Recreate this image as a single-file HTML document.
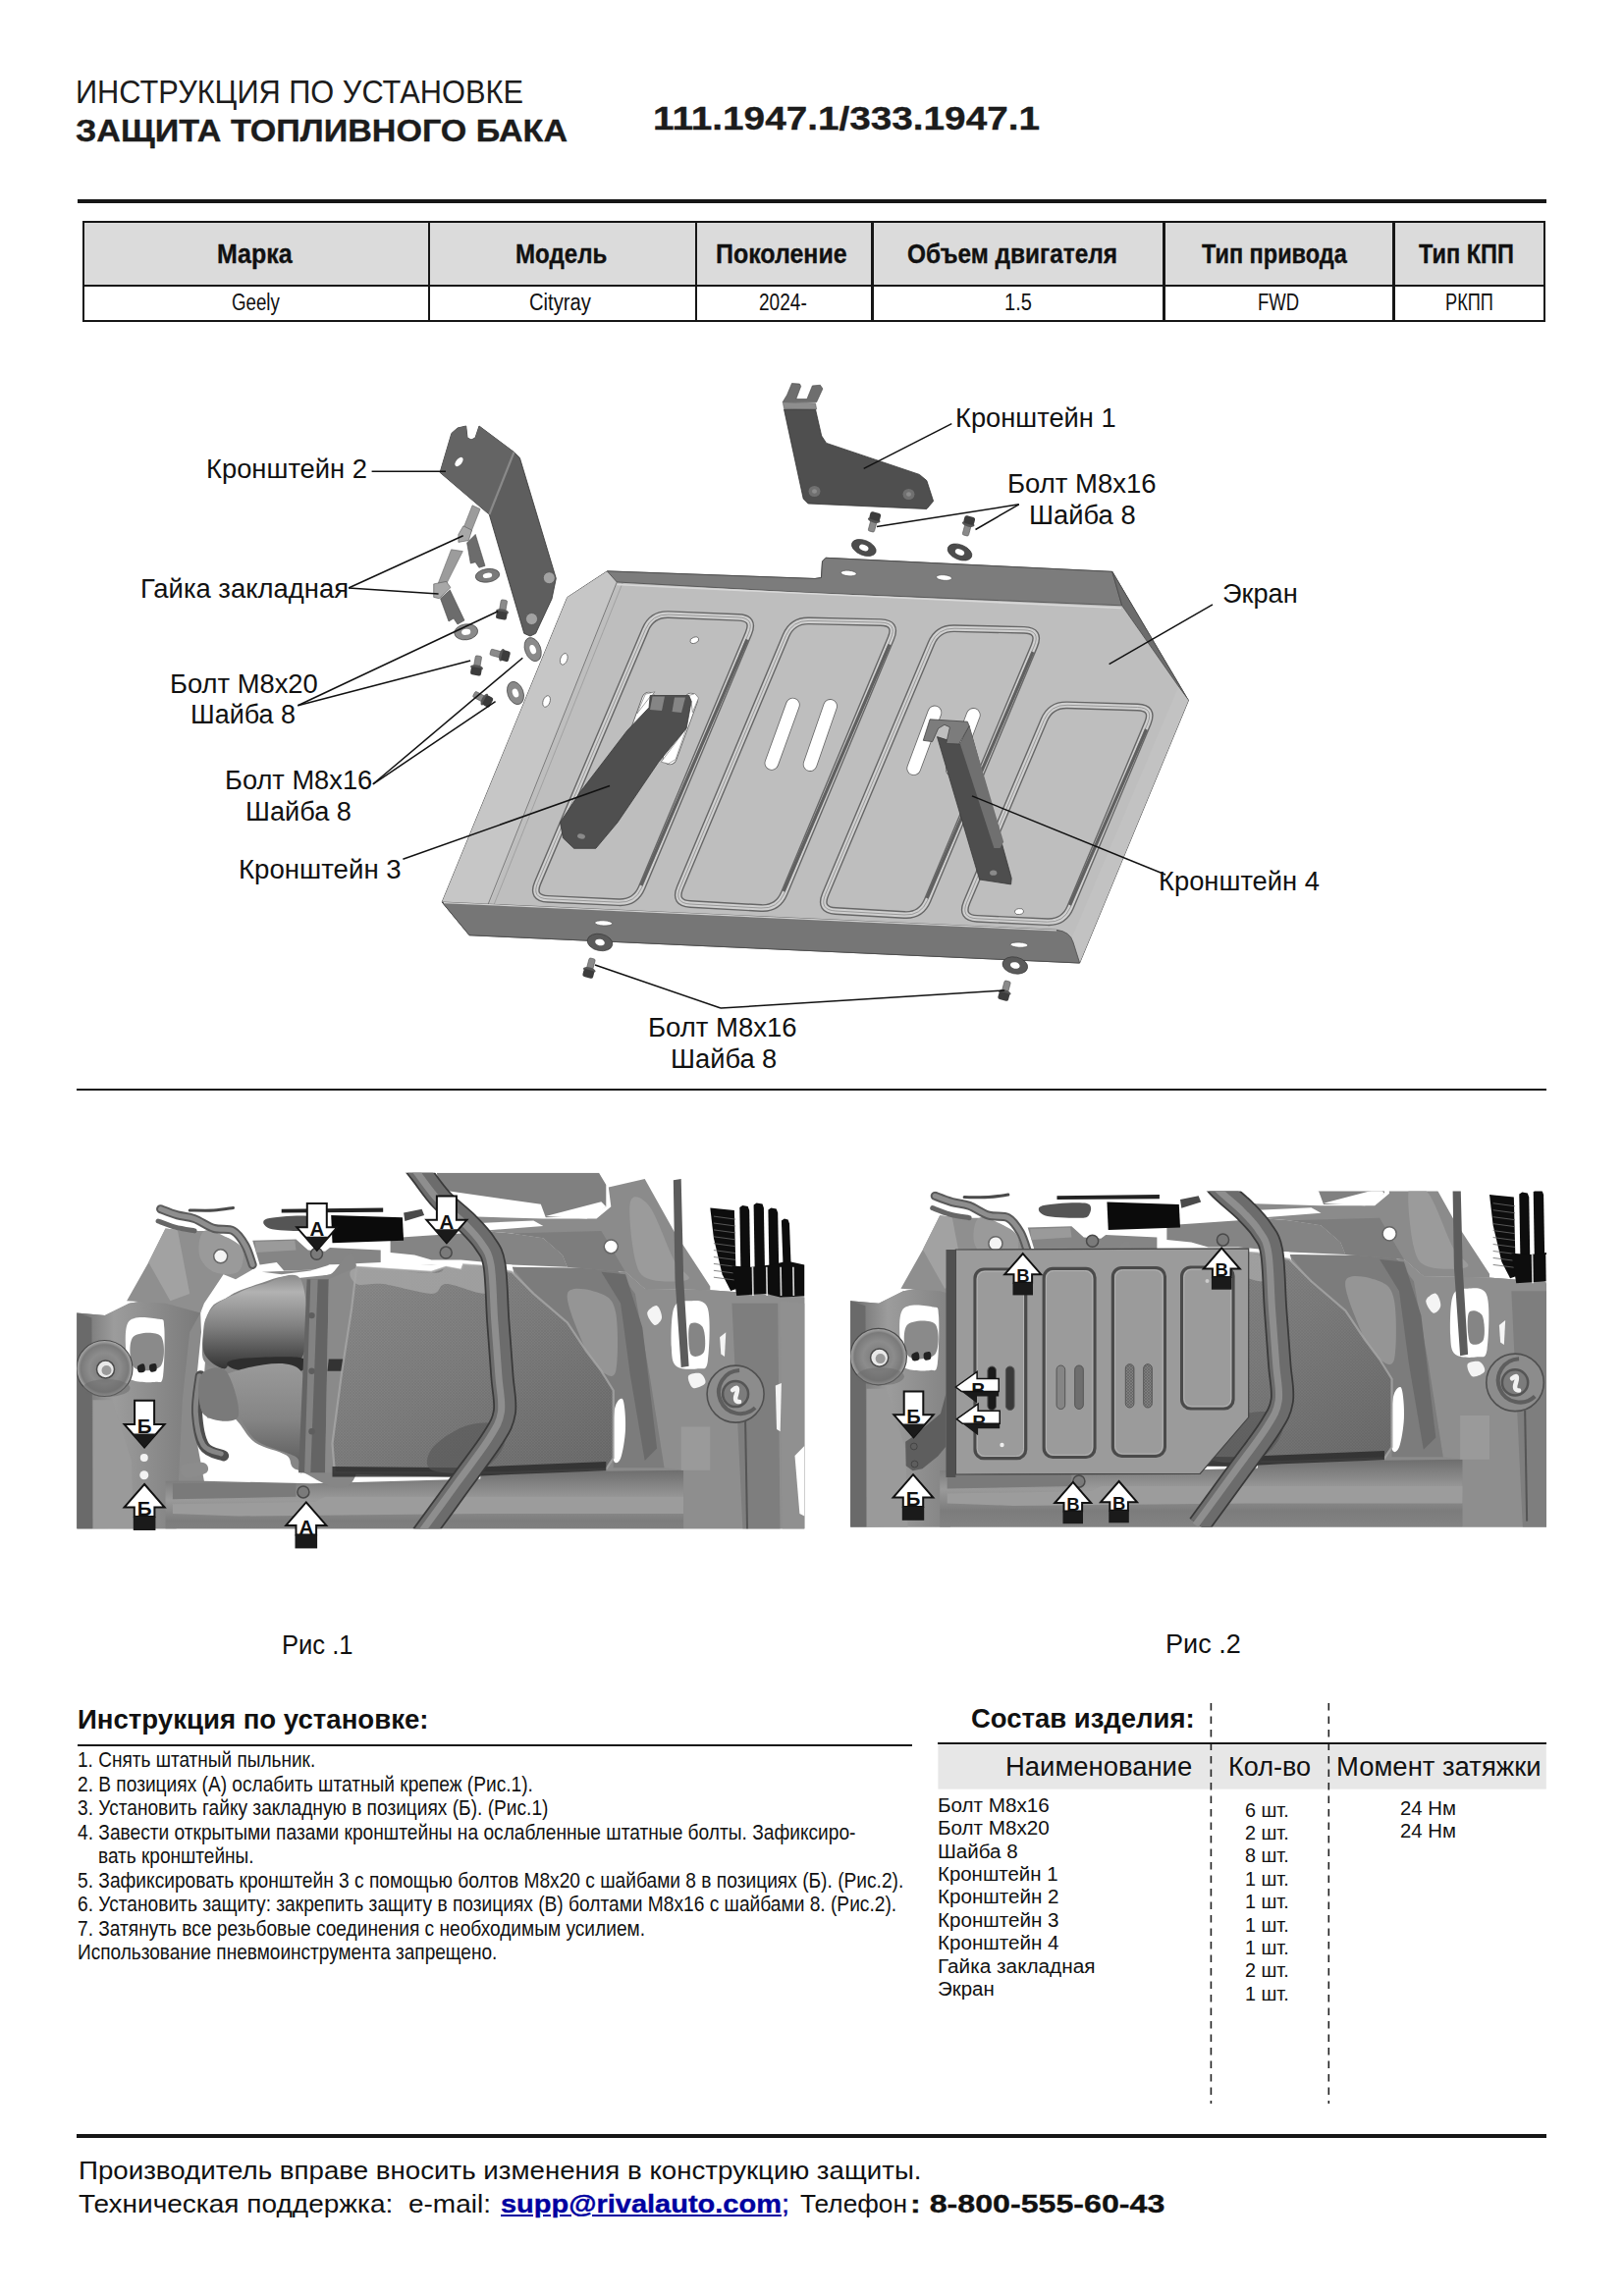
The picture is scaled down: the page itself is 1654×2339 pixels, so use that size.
<!DOCTYPE html>
<html lang="ru"><head><meta charset="utf-8"><title>Инструкция по установке</title>
<style>
html,body{margin:0;padding:0;background:#fff}
body{width:1654px;height:2339px;position:relative;overflow:hidden;font-family:"Liberation Sans",sans-serif;color:#111}
.t{position:absolute;white-space:pre;line-height:1;transform-origin:0 0}
.b{font-weight:bold}
.h{-webkit-text-stroke:.35px currentColor}
.r{position:absolute;background:#111}
svg{position:absolute;left:0;top:0}
a{color:inherit}
</style></head><body>

<svg width="1654" height="2339" viewBox="0 0 1654 2339">
<defs>
<linearGradient id="gPlate" x1="0" y1="0" x2="1" y2="1"><stop offset="0" stop-color="#c4c4c4"/><stop offset="1" stop-color="#b9b9b9"/></linearGradient>
<linearGradient id="gPipe" x1="0" y1="0" x2="1" y2="0"><stop offset="0" stop-color="#4a4a4a"/><stop offset=".4" stop-color="#b8b8b8"/><stop offset="1" stop-color="#585858"/></linearGradient>
</defs>
<polygon points="618.4,581.9 830.0,589.5 836.5,588.5 837.5,572.0 841.0,568.3 1132.8,582.4 1210.4,713.6 1099.6,981.0 478.0,952.7 450.2,919.0 577.8,608.5" fill="#bebebe" stroke="#4a4a4a" stroke-width="1" />
<polygon points="577.8,608.5 618.4,581.9 628.3,593.0 497.0,925.0 450.2,919.0" fill="#c6c6c6" />
<line x1="628.3" y1="593.0" x2="497.0" y2="921.5" stroke="#7a7a7a" stroke-width="1" />
<line x1="634.0" y1="594.0" x2="503.0" y2="921.8" stroke="#9a9a9a" stroke-width="0.8" />
<polygon points="618.4,581.9 830.0,589.5 836.5,588.5 837.5,572.0 841.0,568.3 1132.8,582.4 1142.7,616.8 820.0,603.5 628.3,593.0" fill="#7c7c7c" stroke="#4a4a4a" stroke-width="0.8" />
<line x1="628.3" y1="595.5" x2="1142.0" y2="619.5" stroke="#d8d8d8" stroke-width="1.6" />
<polygon points="1132.8,582.4 1142.7,616.8 1210.4,713.6" fill="#6c6c6c" stroke="#4a4a4a" stroke-width="0.8" />
<polygon points="1210.4,713.6 1099.6,981.0 1091.0,957.0 1200.0,700.0" fill="#c2c2c2" />
<path d="M450.2,919 L1076,947.3 Q1090,949 1093,960 L1099.6,981 L478,952.7 Z" fill="#767676" stroke="#4a4a4a" stroke-width="0.8"/>
<line x1="452.0" y1="919.6" x2="1076.0" y2="947.8" stroke="#d0d0d0" stroke-width="1.2" />
<path d="M657.4,641.1 Q664.0,625.5 681.0,626.1 L752.0,628.9 Q769.0,629.5 762.4,645.2 L653.6,904.3 Q647.0,920.0 630.0,919.2 L558.0,915.8 Q541.0,915.0 547.6,899.4 Z" fill="none" stroke="#666" stroke-width="7.8"/>
<path d="M657.4,641.1 Q664.0,625.5 681.0,626.1 L752.0,628.9 Q769.0,629.5 762.4,645.2 L653.6,904.3 Q647.0,920.0 630.0,919.2 L558.0,915.8 Q541.0,915.0 547.6,899.4 Z" fill="none" stroke="#d0d0d0" stroke-width="5"/>
<path d="M657.4,641.1 Q664.0,625.5 681.0,626.1 L752.0,628.9 Q769.0,629.5 762.4,645.2 L653.6,904.3 Q647.0,920.0 630.0,919.2 L558.0,915.8 Q541.0,915.0 547.6,899.4 Z" fill="none" stroke="#8a8a8a" stroke-width="0.8"/>
<line x1="761.0" y1="651.5" x2="653.0" y2="902.0" stroke="#606060" stroke-width="3.2" />
<path d="M800.4,647.7 Q807.0,632.0 824.0,632.4 L897.0,634.1 Q914.0,634.5 907.4,650.2 L798.6,910.3 Q792.0,926.0 775.0,925.0 L703.0,921.0 Q686.0,920.0 692.6,904.3 Z" fill="none" stroke="#666" stroke-width="7.8"/>
<path d="M800.4,647.7 Q807.0,632.0 824.0,632.4 L897.0,634.1 Q914.0,634.5 907.4,650.2 L798.6,910.3 Q792.0,926.0 775.0,925.0 L703.0,921.0 Q686.0,920.0 692.6,904.3 Z" fill="none" stroke="#d0d0d0" stroke-width="5"/>
<path d="M800.4,647.7 Q807.0,632.0 824.0,632.4 L897.0,634.1 Q914.0,634.5 907.4,650.2 L798.6,910.3 Q792.0,926.0 775.0,925.0 L703.0,921.0 Q686.0,920.0 692.6,904.3 Z" fill="none" stroke="#8a8a8a" stroke-width="0.8"/>
<line x1="906.0" y1="656.5" x2="798.0" y2="908.0" stroke="#606060" stroke-width="3.2" />
<path d="M948.4,655.5 Q955.0,639.8 972.0,640.2 L1043.0,641.8 Q1060.0,642.2 1053.4,657.9 L944.6,917.3 Q938.0,933.0 921.0,932.0 L851.0,928.0 Q834.0,927.0 840.6,911.3 Z" fill="none" stroke="#666" stroke-width="7.8"/>
<path d="M948.4,655.5 Q955.0,639.8 972.0,640.2 L1043.0,641.8 Q1060.0,642.2 1053.4,657.9 L944.6,917.3 Q938.0,933.0 921.0,932.0 L851.0,928.0 Q834.0,927.0 840.6,911.3 Z" fill="none" stroke="#d0d0d0" stroke-width="5"/>
<path d="M948.4,655.5 Q955.0,639.8 972.0,640.2 L1043.0,641.8 Q1060.0,642.2 1053.4,657.9 L944.6,917.3 Q938.0,933.0 921.0,932.0 L851.0,928.0 Q834.0,927.0 840.6,911.3 Z" fill="none" stroke="#8a8a8a" stroke-width="0.8"/>
<line x1="1052.0" y1="664.2" x2="944.0" y2="915.0" stroke="#606060" stroke-width="3.2" />
<path d="M1063.4,733.5 Q1070.0,717.8 1087.0,718.3 L1158.5,720.5 Q1175.5,721.0 1168.9,736.7 L1090.1,924.3 Q1083.5,940.0 1066.5,939.2 L995.0,935.8 Q978.0,935.0 984.6,919.3 Z" fill="none" stroke="#666" stroke-width="7.8"/>
<path d="M1063.4,733.5 Q1070.0,717.8 1087.0,718.3 L1158.5,720.5 Q1175.5,721.0 1168.9,736.7 L1090.1,924.3 Q1083.5,940.0 1066.5,939.2 L995.0,935.8 Q978.0,935.0 984.6,919.3 Z" fill="none" stroke="#d0d0d0" stroke-width="5"/>
<path d="M1063.4,733.5 Q1070.0,717.8 1087.0,718.3 L1158.5,720.5 Q1175.5,721.0 1168.9,736.7 L1090.1,924.3 Q1083.5,940.0 1066.5,939.2 L995.0,935.8 Q978.0,935.0 984.6,919.3 Z" fill="none" stroke="#8a8a8a" stroke-width="0.8"/>
<line x1="1167.5" y1="743.0" x2="1089.5" y2="922.0" stroke="#606060" stroke-width="3.2" />
<line x1="660.8" y1="712.1" x2="639.2" y2="771.9" stroke="#666" stroke-width="14.6" stroke-linecap="round"/>
<line x1="660.8" y1="712.1" x2="639.2" y2="771.9" stroke="#fff" stroke-width="13.0" stroke-linecap="round"/>
<line x1="703.8" y1="713.1" x2="682.2" y2="771.9" stroke="#666" stroke-width="14.6" stroke-linecap="round"/>
<line x1="703.8" y1="713.1" x2="682.2" y2="771.9" stroke="#fff" stroke-width="13.0" stroke-linecap="round"/>
<line x1="807.4" y1="718.1" x2="785.9" y2="777.4" stroke="#666" stroke-width="14.6" stroke-linecap="round"/>
<line x1="807.4" y1="718.1" x2="785.9" y2="777.4" stroke="#fff" stroke-width="13.0" stroke-linecap="round"/>
<line x1="845.6" y1="719.4" x2="825.1" y2="778.6" stroke="#666" stroke-width="14.6" stroke-linecap="round"/>
<line x1="845.6" y1="719.4" x2="825.1" y2="778.6" stroke="#fff" stroke-width="13.0" stroke-linecap="round"/>
<line x1="951.9" y1="725.9" x2="930.7" y2="782.7" stroke="#666" stroke-width="14.6" stroke-linecap="round"/>
<line x1="951.9" y1="725.9" x2="930.7" y2="782.7" stroke="#fff" stroke-width="13.0" stroke-linecap="round"/>
<line x1="991.3" y1="728.4" x2="970.3" y2="783.9" stroke="#666" stroke-width="14.6" stroke-linecap="round"/>
<line x1="991.3" y1="728.4" x2="970.3" y2="783.9" stroke="#fff" stroke-width="13.0" stroke-linecap="round"/>
<ellipse cx="707.3" cy="652.2" rx="4.5" ry="3.0" fill="#fff" transform="rotate(-20 707.3 652.2)" stroke="#555" stroke-width="0.7"/>
<ellipse cx="574.3" cy="671.4" rx="3.5" ry="6.0" fill="#fff" transform="rotate(20 574.3 671.4)" stroke="#555" stroke-width="0.7"/>
<ellipse cx="556.6" cy="714.5" rx="3.5" ry="6.0" fill="#fff" transform="rotate(20 556.6 714.5)" stroke="#555" stroke-width="0.7"/>
<ellipse cx="1038.0" cy="928.6" rx="4.5" ry="3.0" fill="#fff" transform="rotate(-10 1038.0 928.6)" stroke="#555" stroke-width="0.7"/>
<ellipse cx="864.3" cy="584.0" rx="8.0" ry="2.8" fill="#fff" transform="rotate(5 864.3 584.0)" stroke="#555" stroke-width="0.7"/>
<ellipse cx="961.5" cy="588.5" rx="8.0" ry="2.8" fill="#fff" transform="rotate(5 961.5 588.5)" stroke="#555" stroke-width="0.7"/>
<ellipse cx="614.7" cy="940.4" rx="9.0" ry="2.6" fill="#fff" transform="rotate(3 614.7 940.4)" stroke="#555" stroke-width="0.7"/>
<ellipse cx="1038.0" cy="962.6" rx="9.0" ry="2.6" fill="#fff" transform="rotate(3 1038.0 962.6)" stroke="#555" stroke-width="0.7"/>
<polygon points="648.7,727.0 657.3,707.2 667.1,704.8 662.2,709.7" fill="#fff" stroke="#666" stroke-width="0.6" />
<polygon points="701.6,708.5 707.8,706.6 711.5,711.0 705.3,725.7 704.1,714.6" fill="#fff" stroke="#666" stroke-width="0.6" />
<polygon points="699.2,741.7 688.1,773.7 680.7,778.0 673.3,776.2" fill="#fff" stroke="#666" stroke-width="0.6" />
<polygon points="662.2,708.5 701.6,708.5 704.1,714.6 699.2,741.7 670.8,776.2 629.0,837.8 606.8,864.3 584.6,864.3 573.5,853.8 570.5,837.8 590.8,807.0 638.8,744.2 661.0,720.8" fill="#4f4f4f" stroke="#3a3a3a" stroke-width="0.8" />
<polygon points="664.5,709.5 677.0,709.5 674.0,724.0 662.0,723.0" fill="#858585" />
<polygon points="687.0,710.5 698.0,710.5 694.0,726.0 684.5,725.0" fill="#858585" />
<ellipse cx="592.0" cy="852.0" rx="4.0" ry="2.6" fill="#8a8a8a" transform="rotate(10 592.0 852.0)"/>
<polygon points="954.5,750.6 977.9,758.0 987.1,739.6 1030.2,894.7 1029.6,900.9 997.6,896.0" fill="#4e4e4e" stroke="#3a3a3a" stroke-width="0.8" />
<polygon points="977.9,758.0 987.1,739.6 1022.2,857.8 1018.5,863.9 1012.4,863.9" fill="#707070" />
<polygon points="947.1,732.8 985.3,735.2 987.1,739.6 976.7,758.0 963.7,757.4 967.4,740.8 961.9,738.3 955.7,742.0 949.6,755.6 940.3,754.3" fill="#7c7c7c" stroke="#444" stroke-width="0.8" />
<ellipse cx="1011.7" cy="889.2" rx="3.6" ry="2.6" fill="#8a8a8a"/>
<polygon points="798.5,416.9 818.2,508.1 823.1,513.0 943.8,518.5 950.6,510.5 943.8,489.6 936.4,483.4 841.6,451.4 836.7,444.0 830.5,416.9" fill="#4f4f4f" stroke="#333" stroke-width="0.8" />
<polygon points="801.6,402.2 806.5,390.5 814.5,391.1 815.7,393.5 810.8,406.5 821.9,406.5 827.4,392.9 835.4,392.3 837.9,396.0 831.7,409.6 797.2,409.6" fill="#6e6e6e" stroke="#444" stroke-width="0.6" />
<polygon points="797.2,409.6 830.5,410.8 831.7,416.9 798.5,416.3" fill="#8e8e8e" stroke="#555" stroke-width="0.5" />
<ellipse cx="829.5" cy="500.5" rx="6.0" ry="5.5" fill="#707070"/>
<ellipse cx="925.5" cy="503.5" rx="6.0" ry="5.5" fill="#707070"/>
<ellipse cx="829.5" cy="500.5" rx="2.5" ry="2.2" fill="#8c8c8c"/>
<ellipse cx="925.5" cy="503.5" rx="2.5" ry="2.2" fill="#8c8c8c"/>
<polygon points="459.9,441.4 466.0,436.0 474.7,434.0 476.0,446.0 480.0,448.0 484.0,446.0 488.0,434.0 523.5,460.6 529.4,466.5 566.3,589.2 562.0,610.0 545.6,645.3 540.0,648.0 533.8,645.3 498.3,524.1 448.1,481.3" fill="#5e5e5e" stroke="#3c3c3c" stroke-width="0.9" />
<polygon points="459.9,441.4 466.0,436.0 474.7,434.0 476.0,446.0 480.0,448.0 484.0,446.0 488.0,434.0 523.5,460.6 498.3,524.1 448.1,481.3" fill="#646464" />
<line x1="523.5" y1="460.6" x2="498.3" y2="524.1" stroke="#8a8a8a" stroke-width="2.2" />
<ellipse cx="467.5" cy="470.5" rx="3.0" ry="5.5" fill="#fff" transform="rotate(38 467.5 470.5)"/>
<ellipse cx="559.3" cy="588.7" rx="6.0" ry="6.0" fill="#a2a2a2" stroke="#555" stroke-width="0.8"/>
<ellipse cx="541.5" cy="630.5" rx="6.0" ry="6.0" fill="#a2a2a2" stroke="#555" stroke-width="0.8"/>
<polygon points="481.1,514.8 489.1,518.5 479.3,543.2 471.9,538.2" fill="#9c9c9c" stroke="#666" stroke-width="0.6" />
<polygon points="475.6,553.0 484.2,544.4 494.0,576.4 487.9,578.3 484.2,572.7 479.3,574.0" fill="#6c6c6c" stroke="#444" stroke-width="0.6" />
<polygon points="471.9,535.8 480.5,540.1 477.4,550.5 466.9,552.4 466.9,544.4" fill="#a8a8a8" stroke="#555" stroke-width="0.6" />
<polygon points="459.6,559.8 471.3,561.6 453.4,597.3 446.0,594.9" fill="#9c9c9c" stroke="#666" stroke-width="0.6" />
<polygon points="448.5,609.7 458.3,601.0 473.0,632.0 466.0,636.0 462.0,630.0 457.0,633.0" fill="#6c6c6c" stroke="#444" stroke-width="0.6" />
<polygon points="441.7,594.9 454.6,592.4 458.9,598.6 447.2,609.7 441.7,608.4" fill="#a8a8a8" stroke="#555" stroke-width="0.6" />
<ellipse cx="879.8" cy="558.0" rx="13.0" ry="7.6" fill="#4c4c4c" transform="rotate(22 879.8 558.0)" stroke="#333" stroke-width="0.6"/>
<ellipse cx="879.8" cy="558.0" rx="4.9" ry="2.9" fill="#fff" transform="rotate(22 879.8 558.0)"/>
<ellipse cx="977.5" cy="562.5" rx="13.0" ry="7.6" fill="#4c4c4c" transform="rotate(22 977.5 562.5)" stroke="#333" stroke-width="0.6"/>
<ellipse cx="977.5" cy="562.5" rx="4.9" ry="2.9" fill="#fff" transform="rotate(22 977.5 562.5)"/>
<ellipse cx="611.0" cy="960.0" rx="13.0" ry="8.5" fill="#5a5a5a" transform="rotate(12 611.0 960.0)" stroke="#333" stroke-width="0.6"/>
<ellipse cx="611.0" cy="960.0" rx="4.9" ry="3.2" fill="#fff" transform="rotate(12 611.0 960.0)"/>
<ellipse cx="1033.8" cy="983.5" rx="13.0" ry="8.5" fill="#5a5a5a" transform="rotate(12 1033.8 983.5)" stroke="#333" stroke-width="0.6"/>
<ellipse cx="1033.8" cy="983.5" rx="4.9" ry="3.2" fill="#fff" transform="rotate(12 1033.8 983.5)"/>
<ellipse cx="496.5" cy="586.3" rx="12.3" ry="6.8" fill="#7a7a7a" transform="rotate(-8 496.5 586.3)" stroke="#333" stroke-width="0.6"/>
<ellipse cx="496.5" cy="586.3" rx="4.7" ry="2.6" fill="#fff" transform="rotate(-8 496.5 586.3)"/>
<ellipse cx="474.7" cy="643.8" rx="12.0" ry="8.0" fill="#8a8a8a" transform="rotate(-8 474.7 643.8)" stroke="#333" stroke-width="0.6"/>
<ellipse cx="474.7" cy="643.8" rx="4.6" ry="3.0" fill="#fff" transform="rotate(-8 474.7 643.8)"/>
<ellipse cx="542.7" cy="661.6" rx="8.0" ry="12.5" fill="#8a8a8a" transform="rotate(-20 542.7 661.6)" stroke="#333" stroke-width="0.6"/>
<ellipse cx="542.7" cy="661.6" rx="3.0" ry="4.8" fill="#fff" transform="rotate(-20 542.7 661.6)"/>
<ellipse cx="525.0" cy="706.0" rx="8.0" ry="12.0" fill="#8a8a8a" transform="rotate(-20 525.0 706.0)" stroke="#333" stroke-width="0.6"/>
<ellipse cx="525.0" cy="706.0" rx="3.0" ry="4.6" fill="#fff" transform="rotate(-20 525.0 706.0)"/>
<g transform="translate(891.0 527.0) rotate(195)"><rect x="-3.2" y="-15" width="6.4" height="12" rx="1.5" fill="#8a8a8a" stroke="#555" stroke-width=".6"/><ellipse cx="0" cy="-3" rx="6.5" ry="2.6" fill="#555"/><rect x="-5.5" y="-3" width="11" height="8" rx="2.2" fill="#3c3c3c"/></g>
<g transform="translate(987.0 531.0) rotate(195)"><rect x="-3.2" y="-15" width="6.4" height="12" rx="1.5" fill="#8a8a8a" stroke="#555" stroke-width=".6"/><ellipse cx="0" cy="-3" rx="6.5" ry="2.6" fill="#555"/><rect x="-5.5" y="-3" width="11" height="8" rx="2.2" fill="#3c3c3c"/></g>
<g transform="translate(599.5 991.0) rotate(15)"><rect x="-3.2" y="-15" width="6.4" height="12" rx="1.5" fill="#8a8a8a" stroke="#555" stroke-width=".6"/><ellipse cx="0" cy="-3" rx="6.5" ry="2.6" fill="#555"/><rect x="-5.5" y="-3" width="11" height="8" rx="2.2" fill="#3c3c3c"/></g>
<g transform="translate(1022.5 1014.0) rotate(15)"><rect x="-3.2" y="-15" width="6.4" height="12" rx="1.5" fill="#8a8a8a" stroke="#555" stroke-width=".6"/><ellipse cx="0" cy="-3" rx="6.5" ry="2.6" fill="#555"/><rect x="-5.5" y="-3" width="11" height="8" rx="2.2" fill="#3c3c3c"/></g>
<g transform="translate(511.0 626.0) rotate(10)"><rect x="-3.2" y="-15" width="6.4" height="12" rx="1.5" fill="#8a8a8a" stroke="#555" stroke-width=".6"/><ellipse cx="0" cy="-3" rx="6.5" ry="2.6" fill="#555"/><rect x="-5.5" y="-3" width="11" height="8" rx="2.2" fill="#3c3c3c"/></g>
<g transform="translate(485.0 683.0) rotate(10)"><rect x="-3.2" y="-15" width="6.4" height="12" rx="1.5" fill="#8a8a8a" stroke="#555" stroke-width=".6"/><ellipse cx="0" cy="-3" rx="6.5" ry="2.6" fill="#555"/><rect x="-5.5" y="-3" width="11" height="8" rx="2.2" fill="#3c3c3c"/></g>
<g transform="translate(514.0 668.0) rotate(-75)"><rect x="-3.2" y="-15" width="6.4" height="12" rx="1.5" fill="#8a8a8a" stroke="#555" stroke-width=".6"/><ellipse cx="0" cy="-3" rx="6.5" ry="2.6" fill="#555"/><rect x="-5.5" y="-3" width="11" height="8" rx="2.2" fill="#3c3c3c"/></g>
<g transform="translate(496.0 714.0) rotate(-62)"><rect x="-3.2" y="-15" width="6.4" height="12" rx="1.5" fill="#8a8a8a" stroke="#555" stroke-width=".6"/><ellipse cx="0" cy="-3" rx="6.5" ry="2.6" fill="#555"/><rect x="-5.5" y="-3" width="11" height="8" rx="2.2" fill="#3c3c3c"/></g>
<line x1="378.6" y1="480.2" x2="454.0" y2="480.2" stroke="#111" stroke-width="1.5" />
<line x1="355.0" y1="599.0" x2="471.7" y2="545.8" stroke="#111" stroke-width="1.5" />
<line x1="355.0" y1="599.0" x2="446.6" y2="605.0" stroke="#111" stroke-width="1.5" />
<line x1="303.3" y1="718.7" x2="507.2" y2="622.7" stroke="#111" stroke-width="1.5" />
<line x1="303.3" y1="718.7" x2="479.1" y2="673.0" stroke="#111" stroke-width="1.5" />
<line x1="379.9" y1="798.8" x2="532.3" y2="670.3" stroke="#111" stroke-width="1.5" />
<line x1="379.9" y1="798.8" x2="504.6" y2="714.6" stroke="#111" stroke-width="1.5" />
<line x1="410.4" y1="875.3" x2="621.0" y2="800.5" stroke="#111" stroke-width="1.5" />
<line x1="969.3" y1="431.6" x2="879.7" y2="477.4" stroke="#111" stroke-width="1.5" />
<line x1="1037.8" y1="513.8" x2="893.0" y2="536.5" stroke="#111" stroke-width="1.5" />
<line x1="1037.8" y1="513.8" x2="993.5" y2="539.5" stroke="#111" stroke-width="1.5" />
<line x1="1235.0" y1="615.8" x2="1129.6" y2="676.7" stroke="#111" stroke-width="1.5" />
<line x1="990.0" y1="810.9" x2="1187.0" y2="891.0" stroke="#111" stroke-width="1.5" />
<line x1="606.0" y1="983.0" x2="734.0" y2="1027.0" stroke="#111" stroke-width="1.5" />
<line x1="734.0" y1="1027.0" x2="1023.2" y2="1009.0" stroke="#111" stroke-width="1.5" />
<defs>
<linearGradient id="gTankTop" x1="0" y1="0" x2="0" y2="1"><stop offset="0" stop-color="#8a8a8a"/><stop offset=".18" stop-color="#b2b2b2"/><stop offset=".55" stop-color="#808080"/><stop offset="1" stop-color="#343434"/></linearGradient>
<linearGradient id="gTankLow" x1="0" y1="0" x2="0" y2="1"><stop offset="0" stop-color="#9a9a9a"/><stop offset=".5" stop-color="#858585"/><stop offset="1" stop-color="#555"/></linearGradient>
<linearGradient id="gShield" x1="0" y1="0" x2="1" y2="1"><stop offset="0" stop-color="#909090"/><stop offset=".5" stop-color="#7c7c7c"/><stop offset="1" stop-color="#636363"/></linearGradient>
<linearGradient id="gBand" x1="0" y1="0" x2="0" y2="1"><stop offset="0" stop-color="#6e6e6e"/><stop offset=".35" stop-color="#9a9a9a"/><stop offset=".6" stop-color="#7c7c7c"/><stop offset="1" stop-color="#8a8a8a"/></linearGradient>
<linearGradient id="gCol" x1="0" y1="0" x2="1" y2="0"><stop offset="0" stop-color="#6c6c6c"/><stop offset=".3" stop-color="#9c9c9c"/><stop offset=".7" stop-color="#888"/><stop offset="1" stop-color="#7a7a7a"/></linearGradient>
<radialGradient id="gDisc"><stop offset="0" stop-color="#777"/><stop offset=".55" stop-color="#8c8c8c"/><stop offset=".85" stop-color="#7a7a7a"/><stop offset="1" stop-color="#b0b0b0"/></radialGradient>
<pattern id="hatch" width="3" height="3" patternUnits="userSpaceOnUse"><rect width="3" height="3" fill="#808080"/><path d="M0,3 L3,0 M0,0 L3,3" stroke="#5e5e5e" stroke-width=".6"/></pattern>
<clipPath id="c1"><rect x="78.3" y="1194.8" width="741.5" height="362.4"/></clipPath>
<clipPath id="c2"><rect x="866.2" y="1213.5" width="708.8" height="342"/></clipPath>
</defs>
<defs><g id="scene">
<path d="M78.1,1583.9 L78.1,1337.6 L106.9,1340.1 L131.6,1327.8 L168.5,1321.6 L198.1,1324.1 L204.2,1337.6 L267.6,1295.8 L440.0,1288.4 L521.3,1290.8 L637.0,1295.8 L656.7,1313.0 L723.3,1314.2 L819.3,1321.6 L819.3,1583.9 Z" fill="#8a8a8a" />
<path d="M78.1,1337.6 L106.9,1340.1 L131.6,1327.8 L168.5,1321.6 L198.1,1324.1 L204.2,1337.6 L193.2,1357.3 L185.8,1426.3 L178.4,1583.9 L78.1,1583.9 Z" fill="url(#gCol)" />
<path d="M78.1,1337.6 L93.4,1342.6 L94.6,1583.9 L78.1,1583.9 Z" fill="#6a6a6a" />
<path d="M94.6,1426.3 L114.3,1426.3 L134.0,1487.9 L136.5,1583.9 L94.6,1583.9 Z" fill="#9a9a9a" />
<path d="M168.5,1508.8 L488.7,1507.6 L489.3,1500.2 L696.2,1497.7 L696.2,1583.9 L168.5,1583.9 Z" fill="url(#gBand)" />
<path d="M175.9,1532.2 L321.2,1529.8 L331.1,1524.8 L488.7,1524.8 L696.2,1524.8 L696.2,1542.1 L489.3,1542.1 L242.4,1544.5 L175.9,1542.1 Z" fill="#9c9c9c" />
<path d="M175.9,1511.3 L301.5,1510.0 L301.5,1524.8 L175.9,1527.3 Z" fill="#7a7a7a" />
<path d="M637.0,1295.8 L656.7,1313.0 L723.3,1314.2 L819.3,1321.6 L819.3,1583.9 L696.2,1583.9 L696.2,1497.7 L676.5,1495.3 L661.7,1401.7 L644.4,1317.9 Z" fill="#8e8e8e" />
<path d="M745.4,1327.8 L792.2,1327.8 L794.7,1583.9 L757.7,1583.9 Z" fill="#7e7e7e" />
<path d="M794.7,1325.3 L819.3,1327.8 L819.3,1583.9 L797.1,1583.9 Z" fill="#909090" />
<path d="M693.7,1453.4 L723.3,1453.4 L723.3,1497.7 L693.7,1497.7 Z" fill="#9a9a9a" />
<path d="M686.3,1332.7 C689.2,1324.9 695.3,1325.3 701.1,1325.3 C706.8,1325.3 717.5,1322.4 720.8,1332.7 C724.1,1343.0 722.4,1376.6 720.8,1386.9 C719.1,1397.2 716.3,1393.5 710.9,1394.3 C705.6,1395.1 693.3,1395.5 688.8,1391.8 C684.3,1388.1 684.3,1382.0 683.8,1372.1 C683.4,1362.3 683.4,1340.5 686.3,1332.7 Z" fill="#fff" />
<path d="M659.2,1337.6 C659.6,1334.4 666.6,1329.4 669.1,1330.2 C671.5,1331.1 674.4,1339.3 674.0,1342.6 C673.6,1345.8 669.1,1350.8 666.6,1350.0 C664.1,1349.1 658.8,1340.9 659.2,1337.6 Z" fill="#f4f4f4" />
<path d="M701.1,1401.7 C702.3,1399.2 710.5,1398.0 713.4,1399.2 C716.3,1400.4 719.6,1406.6 718.3,1409.1 C717.1,1411.5 708.9,1415.2 706.0,1414.0 C703.1,1412.8 699.9,1404.1 701.1,1401.7 Z" fill="#f4f4f4" />
<path d="M789.8,1411.5 L795.9,1409.1 L794.7,1458.3 L791.0,1455.9 Z" fill="#f4f4f4" />
<path d="M809.5,1483.0 L819.3,1473.1 L819.3,1544.5 L814.4,1542.1 Z" fill="#fff" />
<path d="M733.1,1362.3 L739.3,1357.3 L738.0,1382.0 L734.3,1379.5 Z" fill="#f4f4f4" />
<path d="M521.3,1290.8 L627.2,1292.1 L646.9,1317.9 L661.7,1401.7 L676.5,1495.3 L624.7,1495.3 L624.7,1416.5 L597.6,1377.0 L543.4,1317.9 Z" fill="#7c7c7c" />
<path d="M612.4,1295.8 L637.0,1298.2 L654.3,1352.4 L669.1,1475.6 L656.7,1487.9 L642.0,1401.7 L632.1,1327.8 Z" fill="#6a6a6a" />
<path d="M577.9,1317.9 C580.4,1308.1 604.2,1314.6 612.4,1317.9 C620.6,1321.2 624.7,1324.5 627.2,1337.6 C629.7,1350.8 629.7,1386.9 627.2,1396.7 C624.7,1406.6 617.3,1400.0 612.4,1396.7 C607.5,1393.5 603.4,1390.2 597.6,1377.0 C591.9,1363.9 575.5,1327.8 577.9,1317.9 Z" fill="#959595" />
<path d="M627.2,1431.2 C628.8,1427.1 632.9,1422.2 634.6,1426.3 C636.2,1430.4 637.5,1446.0 637.0,1455.9 C636.6,1465.7 634.2,1480.3 632.1,1485.4 C630.1,1490.6 626.0,1492.4 624.7,1486.7 C623.5,1480.9 624.3,1460.2 624.7,1450.9 C625.1,1441.7 625.6,1435.3 627.2,1431.2 Z" fill="#fff" />
<path d="M129.1,1325.3 L151.3,1285.9 L168.5,1251.4 L188.2,1253.9 L207.9,1253.9 L232.6,1261.3 L247.3,1273.6 L257.2,1293.3 L240.0,1303.2 L227.6,1298.2 L217.8,1313.0 L207.9,1327.8 L204.2,1337.6 L168.5,1327.8 Z" fill="#8f8f8f" />
<path d="M168.5,1251.4 L180.8,1252.7 L193.2,1317.9 L173.4,1325.3 L151.3,1285.9 Z" fill="#a2a2a2" />
<path d="M207.9,1253.9 C212.9,1251.0 226.0,1258.0 232.6,1261.3 C239.1,1264.6 245.7,1267.8 247.3,1273.6 C249.0,1279.3 247.3,1292.1 242.4,1295.8 C237.5,1299.5 224.4,1298.6 217.8,1295.8 C211.2,1292.9 204.6,1285.5 203.0,1278.5 C201.4,1271.5 203.0,1256.8 207.9,1253.9 Z" fill="#9a9a9a" />
<circle cx="224.7" cy="1279.8" r="7" fill="#f4f4f4" stroke="#666" stroke-width="1.5"/>
<path d="M163.6,1231.7 C166.5,1232.8 175.1,1236.2 180.8,1237.9 C186.6,1239.5 191.9,1239.3 198.1,1241.6 C204.2,1243.8 211.2,1249.4 217.8,1251.4 C224.4,1253.5 232.2,1251.0 237.5,1253.9 C242.8,1256.8 246.5,1262.9 249.8,1268.7 C253.1,1274.4 256.0,1285.1 257.2,1288.4" fill="none" stroke="#5a5a5a" stroke-width="9" stroke-linecap="round"/>
<path d="M163.6,1231.7 C166.5,1232.8 175.1,1236.2 180.8,1237.9 C186.6,1239.5 191.9,1239.3 198.1,1241.6 C204.2,1243.8 211.2,1249.4 217.8,1251.4 C224.4,1253.5 232.2,1251.0 237.5,1253.9 C242.8,1256.8 246.5,1262.9 249.8,1268.7 C253.1,1274.4 256.0,1285.1 257.2,1288.4" fill="none" stroke="#8e8e8e" stroke-width="5" stroke-linecap="round"/>
<path d="M161.1,1244.0 C164.0,1245.1 172.2,1248.6 178.4,1250.2 C184.5,1251.8 194.8,1253.3 198.1,1253.9" fill="none" stroke="#666" stroke-width="5" stroke-linecap="round"/>
<path d="M193.2,1233.0 C197.3,1233.0 210.4,1233.4 217.8,1233.0 C225.2,1232.5 234.2,1230.9 237.5,1230.5" fill="none" stroke="#4a4a4a" stroke-width="3" stroke-linecap="round"/>
<path d="M257.2,1263.7 L301.5,1262.5 L313.8,1273.6 L331.1,1274.8 L336.0,1271.1 L387.7,1273.6 L387.7,1285.9 L334.8,1288.4 L331.1,1293.3 L289.2,1294.5 L281.8,1285.9 L264.6,1288.4 Z" fill="#858585" />
<path d="M259.7,1265.0 L300.3,1263.7 L301.5,1273.6 L260.9,1276.1 Z" fill="#9a9a9a" />
<path d="M397.6,1261.3 L434.5,1258.8 L470.0,1256.4 L489.3,1253.9 L521.3,1256.4 L553.3,1261.3 L573.0,1278.5 L577.9,1290.8 L521.3,1288.4 L469.6,1283.4 L439.5,1283.4 L422.2,1278.5 L397.6,1276.1 Z" fill="#848484" />
<path d="M444.9,1194.8 L610.0,1194.8 L617.3,1207.1 L617.3,1229.3 L597.6,1239.1 L555.8,1240.3 L550.8,1226.8 L447.4,1212.0 Z" fill="#808080" />
<path d="M469.6,1239.1 L553.3,1241.6 L607.5,1241.6 L622.3,1229.3 L619.8,1209.6 L656.7,1200.9 L686.3,1253.9 L723.3,1310.5 L723.3,1314.2 L656.7,1313.0 L637.0,1295.8 L577.9,1290.8 L573.0,1278.5 L553.3,1261.3 L521.3,1256.4 L489.3,1253.9 Z" fill="#8b8b8b" />
<path d="M521.3,1256.4 L612.4,1253.9 L637.0,1295.8 L577.9,1290.8 L573.0,1278.5 L553.3,1261.3 Z" fill="#7d7d7d" />
<path d="M642.0,1224.3 C644.4,1215.3 654.3,1219.4 661.7,1229.3 C669.1,1239.1 679.7,1271.1 686.3,1283.4 C692.9,1295.8 705.2,1299.9 701.1,1303.2 C697.0,1306.4 670.7,1306.4 661.7,1303.2 C652.6,1299.9 650.2,1296.6 646.9,1283.4 C643.6,1270.3 639.5,1233.4 642.0,1224.3 Z" fill="#9b9b9b" />
<circle cx="622.3" cy="1269.9" r="7" fill="#fff" stroke="#666" stroke-width="1.5"/>
<path d="M476.9,1246.5 L543.4,1243.5 L553.3,1249.0 L489.3,1253.9 Z" fill="#fff" />
<path d="M555.8,1239.1 L612.4,1224.3 L617.3,1229.3 L597.6,1241.6 Z" fill="#fff" />
<path d="M685.8,1202.2 L693.7,1200.9 L696.2,1303.2 L701.6,1391.8 L693.7,1393.1 L687.5,1303.2 Z" fill="#5c5c5c" />
<path d="M702.3,1350.0 C704.4,1345.4 713.4,1347.9 715.9,1352.4 C718.3,1356.9 719.1,1372.5 717.1,1377.0 C715.0,1381.6 706.0,1384.0 703.5,1379.5 C701.1,1375.0 700.3,1354.5 702.3,1350.0 Z" fill="#858585" />
<path d="M723.3,1230.5 L747.9,1233.0 L749.9,1313.0 L744.2,1315.0 L735.6,1298.2 L726.9,1261.3 Z" fill="#0d0d0d" />
<line x1="726.9" y1="1239.1" x2="749.1" y2="1242.1" stroke="#6a6a6a" stroke-width=".8"/>
<line x1="726.9" y1="1246.0" x2="749.1" y2="1249.0" stroke="#6a6a6a" stroke-width=".8"/>
<line x1="726.9" y1="1252.9" x2="749.1" y2="1255.9" stroke="#6a6a6a" stroke-width=".8"/>
<line x1="726.9" y1="1259.8" x2="749.1" y2="1262.8" stroke="#6a6a6a" stroke-width=".8"/>
<line x1="726.9" y1="1266.7" x2="749.1" y2="1269.7" stroke="#6a6a6a" stroke-width=".8"/>
<line x1="726.9" y1="1273.6" x2="749.1" y2="1276.6" stroke="#6a6a6a" stroke-width=".8"/>
<line x1="726.9" y1="1280.5" x2="749.1" y2="1283.4" stroke="#6a6a6a" stroke-width=".8"/>
<line x1="726.9" y1="1287.4" x2="749.1" y2="1290.3" stroke="#6a6a6a" stroke-width=".8"/>
<line x1="726.9" y1="1294.3" x2="749.1" y2="1297.2" stroke="#6a6a6a" stroke-width=".8"/>
<line x1="726.9" y1="1301.2" x2="749.1" y2="1304.1" stroke="#6a6a6a" stroke-width=".8"/>
<path d="M753.3,1230.0 L756.3,1228.0 L761.7,1229.0 L763.2,1233.0 L764.6,1317.9 L754.8,1317.9 Z" fill="#0d0d0d" />
<path d="M767.6,1227.5 L770.5,1225.6 L776.5,1226.6 L777.9,1230.5 L779.4,1317.9 L769.1,1317.9 Z" fill="#0d0d0d" />
<path d="M782.4,1232.5 L785.3,1230.5 L790.7,1231.5 L792.2,1235.4 L793.7,1317.9 L783.8,1317.9 Z" fill="#0d0d0d" />
<path d="M795.9,1243.5 L798.9,1241.6 L802.6,1242.6 L804.0,1246.5 L805.5,1285.9 L797.4,1285.9 Z" fill="#0d0d0d" />
<path d="M745.4,1289.6 L765.1,1290.8 L784.8,1288.4 L802.1,1284.7 L819.3,1288.4 L819.3,1320.4 L794.7,1321.6 L779.9,1317.9 L750.3,1319.9 Z" fill="#0d0d0d" />
<path d="M765.6,1290.8 L767.3,1290.8 L767.8,1319.9 L766.1,1319.9 Z" fill="#fff" opacity=".8"/>
<path d="M779.9,1290.8 L781.6,1290.8 L782.1,1319.9 L780.4,1319.9 Z" fill="#fff" opacity=".8"/>
<path d="M794.2,1290.8 L795.9,1290.8 L796.4,1319.9 L794.7,1319.9 Z" fill="#fff" opacity=".8"/>
<path d="M807.0,1290.8 L808.7,1290.8 L809.2,1319.9 L807.5,1319.9 Z" fill="#fff" opacity=".8"/>
<path d="M337.2,1237.9 L409.9,1240.3 L411.1,1263.7 L338.5,1266.2 Z" fill="#0b0b0b" />
<path d="M286.7,1231.7 L390.2,1230.5 L390.2,1234.7 L286.7,1235.4 Z" fill="#222" />
<path d="M272.0,1241.6 C278.9,1239.5 308.5,1237.5 316.3,1239.1 C324.1,1240.8 320.4,1249.0 318.8,1251.4 C317.1,1253.9 313.8,1253.9 306.5,1253.9 C299.1,1253.9 280.2,1253.5 274.4,1251.4 C268.7,1249.4 265.0,1243.6 272.0,1241.6 Z" fill="#555" />
<path d="M411.1,1235.4 L429.6,1231.7 L432.1,1237.9 L412.4,1244.0 Z" fill="#4a4a4a" />
<path d="M204.2,1337.6 L227.6,1317.9 L257.2,1294.5 L286.7,1298.2 L316.3,1294.5 L336.0,1288.4 L363.1,1289.6 L439.5,1288.4 L470.0,1285.9 L472.0,1285.9 L521.3,1288.4 L523.7,1298.2 L440.0,1303.2 L363.1,1295.8 L291.7,1303.2 L227.6,1332.7 L210.4,1367.2 L207.9,1401.7 L198.1,1426.3 L211.6,1444.8 L242.4,1442.3 L262.1,1470.6 L301.5,1484.2 L306.5,1500.2 L470.0,1505.1 L489.3,1500.2 L489.3,1506.4 L316.3,1511.3 L207.9,1508.8 L201.8,1475.6 L198.1,1441.1 L200.5,1401.7 L205.0,1357.3 Z" fill="#fff" />
<path d="M204.2,1401.7 C203.6,1407.8 199.9,1426.7 200.5,1438.6 C201.2,1450.5 203.4,1465.7 207.9,1473.1 C212.4,1480.5 224.4,1481.3 227.6,1483.0" fill="none" stroke="#4e4e4e" stroke-width="11" stroke-linecap="round"/>
<path d="M203.0,1401.7 C202.4,1407.8 198.7,1426.9 199.3,1438.6 C200.0,1450.3 202.6,1464.8 206.9,1471.9 C211.3,1478.9 222.1,1479.5 225.2,1481.0" fill="none" stroke="#858585" stroke-width="5" stroke-linecap="round"/>
<path d="M185.8,1492.8 C189.0,1490.3 203.8,1489.1 207.9,1490.3 C212.0,1491.6 213.7,1497.7 210.4,1500.2 C207.1,1502.7 192.3,1506.4 188.2,1505.1 C184.1,1503.9 182.5,1495.3 185.8,1492.8 Z" fill="#8c8c8c" />
<path d="M363.1,1290.8 C358.6,1257.2 344.6,1296.3 336.0,1298.2 C327.4,1300.2 319.2,1302.3 311.4,1302.7 C303.6,1303.0 296.6,1299.5 289.2,1300.2 C281.8,1300.9 274.8,1304.3 267.0,1306.8 C259.2,1309.4 248.6,1312.9 242.4,1315.5 C236.3,1318.1 234.2,1320.1 230.1,1322.4 C226.0,1324.6 221.0,1326.1 217.8,1329.0 C214.6,1332.0 212.6,1336.2 210.9,1340.1 C209.2,1344.0 208.3,1345.8 207.4,1352.4 C206.6,1359.1 205.5,1373.8 206.0,1380.0 C206.5,1386.2 208.4,1387.0 210.4,1389.4 C212.4,1391.7 218.2,1392.2 217.8,1394.3 C217.4,1396.3 210.4,1398.0 207.9,1401.7 C205.5,1405.4 203.0,1409.9 203.0,1416.5 C203.0,1423.0 203.4,1437.4 207.9,1441.1 C212.4,1444.8 224.4,1437.4 230.1,1438.6 C235.8,1439.9 237.5,1443.3 242.4,1448.5 C247.3,1453.6 251.4,1463.7 259.7,1469.4 C267.9,1475.1 284.3,1477.7 291.7,1482.5 C299.1,1487.2 292.1,1494.8 304.0,1497.7 C315.9,1500.7 353.3,1534.7 363.1,1500.2 C373.0,1465.7 367.6,1324.5 363.1,1290.8 Z" fill="#868686" />
<path d="M208.4,1352.4 C210.0,1344.3 212.1,1336.6 217.8,1330.7 C223.4,1324.9 234.2,1320.9 242.4,1317.2 C250.6,1313.5 256.4,1310.8 267.0,1308.6 C277.7,1306.3 299.9,1291.0 306.5,1303.6 C313.0,1316.3 317.1,1370.8 306.5,1384.4 C295.8,1398.1 255.6,1384.0 242.4,1385.7 C229.3,1387.3 233.3,1395.3 227.6,1394.3 C222.0,1393.3 211.6,1386.5 208.4,1379.5 C205.2,1372.5 206.9,1360.5 208.4,1352.4 Z" fill="url(#gTankTop)" />
<path d="M232.6,1391.8 C230.1,1389.6 230.1,1385.9 242.4,1384.4 C254.7,1383.0 295.8,1381.1 306.5,1383.2 C317.1,1385.3 314.7,1394.3 306.5,1396.7 C298.2,1399.2 269.5,1398.8 257.2,1398.0 C244.9,1397.2 235.0,1394.1 232.6,1391.8 Z" fill="#2e2e2e" />
<path d="M232.6,1399.2 C247.3,1394.3 294.1,1380.3 306.5,1396.7 C318.8,1413.2 307.3,1483.2 306.5,1497.7 C305.6,1512.3 308.9,1489.1 301.5,1484.2 C294.1,1479.3 272.0,1475.0 262.1,1468.2 C252.3,1461.4 249.8,1450.5 242.4,1443.5 C235.0,1436.6 219.4,1433.7 217.8,1426.3 C216.1,1418.9 217.8,1404.1 232.6,1399.2 Z" fill="url(#gTankLow)" />
<path d="M204.2,1401.7 C207.9,1394.3 223.7,1389.8 230.1,1396.7 C236.5,1403.7 246.1,1436.2 242.4,1443.5 C238.7,1450.9 214.3,1448.1 207.9,1441.1 C201.6,1434.1 200.5,1409.1 204.2,1401.7 Z" fill="#7a7a7a" />
<path d="M312.6,1303.2 L334.8,1303.2 L331.1,1500.2 L304.0,1500.2 Z" fill="#646464" />
<path d="M316.3,1303.2 L323.7,1303.2 L316.3,1500.2 L310.1,1500.2 Z" fill="#828282" />
<circle cx="317.5" cy="1340.1" r="3.2" fill="#5e5e5e"/>
<circle cx="317.5" cy="1396.7" r="3.2" fill="#5e5e5e"/>
<circle cx="317.5" cy="1458.3" r="3.2" fill="#5e5e5e"/>
<path d="M334.8,1303.2 L363.1,1290.8 L363.1,1500.2 L331.1,1500.2 Z" fill="#8a8a8a" />
<path d="M334.8,1384.4 L355.7,1384.4 L353.3,1396.7 L333.5,1396.7 Z" fill="#333" />
<path d="M363.1,1290.8 L439.5,1295.8 L454.2,1290.8 L470.0,1293.8 L472.0,1288.4 L489.3,1289.6 L521.3,1295.8 L543.4,1317.9 L577.9,1347.5 L597.6,1377.0 L612.4,1396.7 L624.7,1416.5 L624.7,1485.4 L617.3,1496.5 L513.9,1500.2 L470.0,1500.2 L340.9,1500.2 L338.5,1470.6 L348.3,1396.7 L358.2,1332.7 Z" fill="url(#hatch)" />
<path d="M363.1,1290.8 L439.5,1295.8 L454.2,1290.8 L470.0,1293.8 L472.0,1288.4 L489.3,1289.6 L521.3,1295.8 L543.4,1317.9 L577.9,1347.5 L597.6,1377.0 L612.4,1396.7 L624.7,1416.5 L624.7,1485.4 L617.3,1496.5 L513.9,1500.2 L470.0,1500.2 L340.9,1500.2 L338.5,1470.6 L348.3,1396.7 L358.2,1332.7 Z" fill="url(#gShield)" opacity=".7"/>
<path d="M363.1,1290.8 L439.5,1295.8 L454.2,1290.8 L470.0,1293.8 L472.0,1288.4 L489.3,1289.6 L521.3,1295.8 L543.4,1317.9 L577.9,1347.5 L597.6,1377.0 L612.4,1396.7 L624.7,1416.5 L624.7,1485.4 L617.3,1496.5 L513.9,1500.2 L470.0,1500.2 L340.9,1500.2 L338.5,1470.6 L348.3,1396.7 L358.2,1332.7 Z" fill="none" stroke="#a8a8a8" stroke-width="2.2" opacity=".8"/>
<path d="M363.1,1292.1 C375.8,1290.2 424.3,1297.0 439.5,1297.0 C454.6,1297.0 449.1,1292.5 454.2,1292.1 C459.3,1291.7 467.0,1294.9 470.0,1294.5 C473.0,1294.1 468.8,1290.2 472.0,1289.6 C475.2,1289.0 482.3,1289.4 489.3,1290.8 C496.2,1292.3 512.7,1293.7 513.9,1298.2 C515.1,1302.7 506.5,1316.3 496.7,1317.9 C486.8,1319.6 464.3,1308.1 454.8,1308.1 C445.2,1308.1 450.2,1317.9 439.5,1317.9 C428.7,1317.9 402.9,1309.7 390.2,1308.1 C377.5,1306.4 367.6,1310.7 363.1,1308.1 C358.6,1305.4 350.4,1293.9 363.1,1292.1 Z" fill="#a6a6a6" opacity=".8"/>
<path d="M338.5,1494.0 L470.0,1495.3 L513.9,1493.3 L617.3,1489.1 L617.3,1498.2 L513.9,1502.2 L470.0,1504.6 L338.5,1504.6 Z" fill="#2c2c2c" opacity=".85"/>
<path d="M472.0,1453.4 C482.7,1449.3 497.1,1448.1 504.0,1450.9 C511.0,1453.8 516.4,1462.8 513.9,1470.6 C511.4,1478.4 501.6,1493.2 489.3,1497.7 C476.9,1502.2 448.2,1501.4 440.0,1497.7 C431.8,1494.0 434.7,1483.0 440.0,1475.6 C445.3,1468.2 461.3,1457.5 472.0,1453.4 Z" fill="#555" opacity=".6"/>
<path d="M412.9,1175.1 C415.5,1178.4 422.3,1187.0 428.4,1194.8 C434.5,1202.6 441.4,1213.3 449.4,1221.9 C457.4,1230.5 469.1,1239.1 476.5,1246.5 C483.8,1253.9 489.2,1259.2 493.7,1266.2 C498.2,1273.2 501.3,1275.2 503.5,1288.4 C505.8,1301.5 505.9,1326.1 507.2,1345.0 C508.6,1363.9 510.3,1386.1 511.4,1401.7 C512.5,1417.3 515.5,1427.9 513.9,1438.6 C512.2,1449.3 509.0,1453.8 501.6,1465.7 C494.2,1477.6 481.5,1493.6 469.6,1510.0 C457.7,1526.5 436.7,1555.2 430.1,1564.2" fill="none" stroke="#3a3a3a" stroke-width="24" stroke-linejoin="round"/>
<path d="M412.9,1175.1 C415.5,1178.4 422.3,1187.0 428.4,1194.8 C434.5,1202.6 441.4,1213.3 449.4,1221.9 C457.4,1230.5 469.1,1239.1 476.5,1246.5 C483.8,1253.9 489.2,1259.2 493.7,1266.2 C498.2,1273.2 501.3,1275.2 503.5,1288.4 C505.8,1301.5 505.9,1326.1 507.2,1345.0 C508.6,1363.9 510.3,1386.1 511.4,1401.7 C512.5,1417.3 515.5,1427.9 513.9,1438.6 C512.2,1449.3 509.0,1453.8 501.6,1465.7 C494.2,1477.6 481.5,1493.6 469.6,1510.0 C457.7,1526.5 436.7,1555.2 430.1,1564.2" fill="none" stroke="#6c6c6c" stroke-width="20.5" stroke-linejoin="round"/>
<path d="M412.9,1175.1 C415.5,1178.4 422.3,1187.0 428.4,1194.8 C434.5,1202.6 441.4,1213.3 449.4,1221.9 C457.4,1230.5 469.1,1239.1 476.5,1246.5 C483.8,1253.9 489.2,1259.2 493.7,1266.2 C498.2,1273.2 501.3,1275.2 503.5,1288.4 C505.8,1301.5 505.9,1326.1 507.2,1345.0 C508.6,1363.9 510.3,1386.1 511.4,1401.7 C512.5,1417.3 515.5,1427.9 513.9,1438.6 C512.2,1449.3 509.0,1453.8 501.6,1465.7 C494.2,1477.6 481.5,1493.6 469.6,1510.0 C457.7,1526.5 436.7,1555.2 430.1,1564.2" fill="none" stroke="#8e8e8e" stroke-width="7" stroke-linejoin="round" transform="translate(-3.5,0)"/>
<path d="M130.3,1347.5 C135.5,1338.7 155.0,1343.0 161.1,1343.8 C167.3,1344.6 166.5,1342.8 167.3,1352.4 C168.1,1362.1 167.5,1392.4 166.1,1401.7 C164.6,1410.9 163.6,1407.0 158.7,1407.8 C153.7,1408.7 141.2,1408.4 136.5,1406.6 C131.8,1404.8 131.4,1406.6 130.3,1396.7 C129.3,1386.9 125.2,1356.3 130.3,1347.5 Z" fill="#fff" />
<path d="M135.3,1362.3 C139.8,1356.9 158.9,1356.1 163.6,1361.0 C168.3,1366.0 168.1,1386.5 163.6,1391.8 C159.1,1397.2 141.2,1398.0 136.5,1393.1 C131.8,1388.1 130.8,1367.6 135.3,1362.3 Z" fill="#8a8a8a" />
<path d="M140.2,1391.8 C141.0,1390.4 145.1,1388.5 146.4,1389.4 C147.6,1390.2 148.4,1395.3 147.6,1396.7 C146.8,1398.2 142.7,1398.8 141.4,1398.0 C140.2,1397.2 139.4,1393.3 140.2,1391.8 Z" fill="#222" />
<path d="M152.5,1390.6 C153.4,1389.3 157.6,1388.4 158.7,1389.4 C159.8,1390.3 160.1,1394.9 159.2,1396.3 C158.3,1397.6 154.4,1398.2 153.3,1397.2 C152.1,1396.3 151.6,1391.9 152.5,1390.6 Z" fill="#222" />
<circle cx="106.5" cy="1394.0" r="28.5" fill="url(#gDisc)" stroke="#4a4a4a" stroke-width="1.2"/>
<ellipse cx="108.5" cy="1414.0" rx="24" ry="9" fill="#6a6a6a" opacity=".5"/>
<circle cx="107.5" cy="1395.0" r="9" fill="#e8e8e8" stroke="#4a4a4a" stroke-width="1.5"/>
<circle cx="108.5" cy="1396.0" r="5" fill="#9a9a9a"/>
<circle cx="749.1" cy="1420.1" r="29" fill="#8c8c8c" stroke="#505050" stroke-width="1.6"/>
<path d="M769.1,1434.1 a22,22 0 1 1 -16,-38" fill="none" stroke="#5e5e5e" stroke-width="4"/>
<circle cx="749.1" cy="1420.1" r="13" fill="#7c7c7c" stroke="#555" stroke-width="2.5"/>
<path d="M746.1,1416.1 q7,-6 4,4 q-3,8 3,8" fill="none" stroke="#f2f2f2" stroke-width="4.5" stroke-linecap="round"/>
<line x1="759.1" y1="1448.1" x2="761.1" y2="1560.1" stroke="#555" stroke-width="2"/>
<circle cx="146.8" cy="1484.9" r="4" fill="#f2f2f2"/>
<circle cx="146.8" cy="1502.7" r="4.5" fill="#f2f2f2"/>
<circle cx="322.5" cy="1277.3" r="6" fill="#7a7a7a" stroke="#4a4a4a" stroke-width="1.5"/>
<circle cx="454.2" cy="1276.1" r="6" fill="#7a7a7a" stroke="#4a4a4a" stroke-width="1.5"/>
<circle cx="308.9" cy="1519.9" r="6" fill="#7a7a7a" stroke="#4a4a4a" stroke-width="1.5"/>
</g></defs>
<g clip-path="url(#c1)"><use href="#scene"/></g>
<g clip-path="url(#c2)"><use href="#scene" transform="translate(787.2,-24.5) scale(1.009)"/>
<path d="M973.4,1273 L1271.7,1271.8 L1271.7,1443.8 L1222.2,1501.4 L973.4,1502 Z" fill="#9b9b9b" stroke="#444" stroke-width="1.2"/>
<rect x="963.5" y="1273" width="9.9" height="232" fill="#505050"/>
<path d="M963.5,1419.4 L963.5,1473.6 L955.2,1483.4 L939.4,1496.3 L929.6,1498.2 L922.7,1493.3 L922.2,1468.7 L929.6,1463.7 L958,1440 Z" fill="#5e5e5e"/><circle cx="930.8" cy="1473.5" r="3.4" fill="none" stroke="#444" stroke-width="1"/><circle cx="931.5" cy="1491.5" r="3.4" fill="none" stroke="#444" stroke-width="1"/>
<rect x="993.0" y="1293.0" width="51.7" height="192.7" rx="9" fill="none" stroke="#4a4a4a" stroke-width="3.2"/>
<rect x="995.2" y="1295.2" width="47.3" height="188.3" rx="8" fill="none" stroke="#b5b5b5" stroke-width="1"/>
<rect x="1063.2" y="1292.4" width="51.8" height="192.1" rx="9" fill="none" stroke="#4a4a4a" stroke-width="3.2"/>
<rect x="1065.4" y="1294.6" width="47.4" height="187.7" rx="8" fill="none" stroke="#b5b5b5" stroke-width="1"/>
<rect x="1133.4" y="1291.6" width="53.0" height="191.7" rx="9" fill="none" stroke="#4a4a4a" stroke-width="3.2"/>
<rect x="1135.6" y="1293.8" width="48.6" height="187.3" rx="8" fill="none" stroke="#b5b5b5" stroke-width="1"/>
<rect x="1203.6" y="1291.0" width="52.4" height="144.0" rx="9" fill="none" stroke="#4a4a4a" stroke-width="3.2"/>
<rect x="1205.8" y="1293.2" width="48.0" height="139.6" rx="8" fill="none" stroke="#b5b5b5" stroke-width="1"/>
<rect x="1005.9" y="1392.0" width="8.6" height="44.5" rx="4.3" fill="#1a1a1a" stroke="#555" stroke-width="1"/>
<rect x="1024.4" y="1392.0" width="8.6" height="44.5" rx="4.3" fill="#3a3a3a" stroke="#555" stroke-width="1"/>
<rect x="1076.1" y="1391.0" width="8.6" height="44.5" rx="4.3" fill="#858585" stroke="#555" stroke-width="1"/>
<rect x="1094.7" y="1391.0" width="8.6" height="44.5" rx="4.3" fill="#6e6e6e" stroke="#555" stroke-width="1"/>
<rect x="1146.3" y="1389.7" width="8.6" height="44.3" rx="4.3" fill="url(#hatch)" stroke="#555" stroke-width="1"/>
<rect x="1164.7" y="1389.7" width="8.6" height="44.3" rx="4.3" fill="url(#hatch)" stroke="#555" stroke-width="1"/>
<circle cx="1020.5" cy="1472" r="2.2" fill="#eee"/><circle cx="1229.5" cy="1305" r="2" fill="#ccc"/>
</g>
<path d="M312.8,1226.1 L332.8,1226.1 L332.8,1250.3 L343.3,1250.3 L322.8,1273.7 L302.3,1250.3 L312.8,1250.3 Z" fill="#fff" stroke="#111" stroke-width="2"/>
<path d="M310.5,1259.7 L335.1,1259.7 L322.8,1273.7 Z" fill="#1a1a1a"/>
<text x="322.8" y="1259.2" font-family="Liberation Sans, sans-serif" font-weight="bold" font-size="20.5" text-anchor="middle" fill="#111">А</text>
<path d="M444.9,1218.6 L464.9,1218.6 L464.9,1242.8 L475.4,1242.8 L454.9,1266.2 L434.4,1242.8 L444.9,1242.8 Z" fill="#fff" stroke="#111" stroke-width="2"/>
<path d="M442.6,1252.2 L467.2,1252.2 L454.9,1266.2 Z" fill="#1a1a1a"/>
<text x="454.9" y="1251.7" font-family="Liberation Sans, sans-serif" font-weight="bold" font-size="20.5" text-anchor="middle" fill="#111">А</text>
<path d="M137.1,1426.8 L157.1,1426.8 L157.1,1451.0 L167.6,1451.0 L147.1,1474.4 L126.6,1451.0 L137.1,1451.0 Z" fill="#fff" stroke="#111" stroke-width="2"/>
<path d="M134.8,1460.4 L159.4,1460.4 L147.1,1474.4 Z" fill="#1a1a1a"/>
<text x="147.1" y="1459.9" font-family="Liberation Sans, sans-serif" font-weight="bold" font-size="20.5" text-anchor="middle" fill="#111">Б</text>
<path d="M147.1,1512.0 L167.6,1535.5 L157.4,1535.5 L157.4,1545.0 L136.8,1545.0 L136.8,1535.5 L126.6,1535.5 Z" fill="#fff" stroke="#111" stroke-width="2"/>
<rect x="135.8" y="1545.0" width="22.6" height="14.0" fill="#1a1a1a"/>
<text x="147.1" y="1544.2" font-family="Liberation Sans, sans-serif" font-weight="bold" font-size="20.5" text-anchor="middle" fill="#111">Б</text>
<path d="M311.8,1530.4 L332.3,1553.9 L322.1,1553.9 L322.1,1563.4 L301.5,1563.4 L301.5,1553.9 L291.3,1553.9 Z" fill="#fff" stroke="#111" stroke-width="2"/>
<rect x="300.5" y="1563.4" width="22.6" height="14.0" fill="#1a1a1a"/>
<text x="311.8" y="1562.6" font-family="Liberation Sans, sans-serif" font-weight="bold" font-size="20.5" text-anchor="middle" fill="#111">А</text>
<path d="M1041.8,1277.1 L1060.2,1298.2 L1051.1,1298.2 L1051.1,1306.8 L1032.5,1306.8 L1032.5,1298.2 L1023.3,1298.2 Z" fill="#fff" stroke="#111" stroke-width="2"/>
<rect x="1031.5" y="1306.8" width="20.5" height="12.6" fill="#1a1a1a"/>
<text x="1041.8" y="1306.0" font-family="Liberation Sans, sans-serif" font-weight="bold" font-size="18.4" text-anchor="middle" fill="#111">В</text>
<path d="M1244.2,1271.4 L1262.7,1292.6 L1253.5,1292.6 L1253.5,1301.1 L1234.9,1301.1 L1234.9,1292.6 L1225.8,1292.6 Z" fill="#fff" stroke="#111" stroke-width="2"/>
<rect x="1233.9" y="1301.1" width="20.5" height="12.6" fill="#1a1a1a"/>
<text x="1244.2" y="1300.3" font-family="Liberation Sans, sans-serif" font-weight="bold" font-size="18.4" text-anchor="middle" fill="#111">В</text>
<path d="M973.4,1413.0 L995.1,1397.5 L995.1,1404.6 L1017.2,1404.6 L1017.2,1422.6 L995.1,1422.6 L995.1,1429.5 Z" fill="#1a1a1a"/>
<path d="M973.4,1413.0 L995.1,1397.5 L995.1,1404.6 L1017.2,1404.6 L1017.2,1417.6 L979.4,1417.6 Z" fill="#fff" stroke="#111" stroke-width="1.5"/>
<clipPath id="cl1413"><rect x="978.4" y="1399.0" width="30" height="18.0"/></clipPath>
<text x="996.4" y="1423.3" font-family="Liberation Sans, sans-serif" font-weight="bold" font-size="20" text-anchor="middle" fill="#111" clip-path="url(#cl1413)">В</text>
<path d="M974.4,1445.7 L996.1,1430.2 L996.1,1437.3 L1018.2,1437.3 L1018.2,1455.3 L996.1,1455.3 L996.1,1462.2 Z" fill="#1a1a1a"/>
<path d="M974.4,1445.7 L996.1,1430.2 L996.1,1437.3 L1018.2,1437.3 L1018.2,1450.3 L980.4,1450.3 Z" fill="#fff" stroke="#111" stroke-width="1.5"/>
<clipPath id="cl1445"><rect x="979.4" y="1431.7" width="30" height="18.0"/></clipPath>
<text x="997.4" y="1456.0" font-family="Liberation Sans, sans-serif" font-weight="bold" font-size="20" text-anchor="middle" fill="#111" clip-path="url(#cl1445)">В</text>
<path d="M920.7,1417.6 L940.3,1417.6 L940.3,1441.3 L950.6,1441.3 L930.5,1464.2 L910.4,1441.3 L920.7,1441.3 Z" fill="#fff" stroke="#111" stroke-width="2"/>
<path d="M918.5,1450.5 L942.5,1450.5 L930.5,1464.2 Z" fill="#1a1a1a"/>
<text x="930.5" y="1450.0" font-family="Liberation Sans, sans-serif" font-weight="bold" font-size="20.1" text-anchor="middle" fill="#111">Б</text>
<path d="M930.0,1502.2 L950.3,1525.5 L940.2,1525.5 L940.2,1534.9 L919.8,1534.9 L919.8,1525.5 L909.7,1525.5 Z" fill="#fff" stroke="#111" stroke-width="2"/>
<rect x="918.8" y="1534.9" width="22.4" height="13.9" fill="#1a1a1a"/>
<text x="930.0" y="1534.1" font-family="Liberation Sans, sans-serif" font-weight="bold" font-size="20.3" text-anchor="middle" fill="#111">Б</text>
<path d="M1092.8,1509.9 L1111.2,1531.1 L1102.1,1531.1 L1102.1,1539.6 L1083.5,1539.6 L1083.5,1531.1 L1074.3,1531.1 Z" fill="#fff" stroke="#111" stroke-width="2"/>
<rect x="1082.5" y="1539.6" width="20.5" height="12.6" fill="#1a1a1a"/>
<text x="1092.8" y="1538.8" font-family="Liberation Sans, sans-serif" font-weight="bold" font-size="18.4" text-anchor="middle" fill="#111">В</text>
<path d="M1139.6,1509.0 L1158.0,1530.2 L1148.9,1530.2 L1148.9,1538.7 L1130.3,1538.7 L1130.3,1530.2 L1121.1,1530.2 Z" fill="#fff" stroke="#111" stroke-width="2"/>
<rect x="1129.3" y="1538.7" width="20.5" height="12.6" fill="#1a1a1a"/>
<text x="1139.6" y="1537.9" font-family="Liberation Sans, sans-serif" font-weight="bold" font-size="18.4" text-anchor="middle" fill="#111">В</text>
<rect x="955.4" y="1777.2" width="619.4" height="45.4" fill="#e7e7e7"/>
<line x1="1233.4" y1="1735" x2="1233.4" y2="2143" stroke="#222" stroke-width="1.6" stroke-dasharray="7.5 6"/>
<line x1="1353.3" y1="1735" x2="1353.3" y2="2143" stroke="#222" stroke-width="1.6" stroke-dasharray="7.5 6"/>
</svg>
<div class="r" style="left:79.0px;top:202.5px;width:1496.0px;height:4.0px;background:#161616"></div>
<div class="r" style="left:84.0px;top:225.0px;width:1490.0px;height:66.0px;background:#dbdbdb"></div>
<div class="r" style="left:83.5px;top:224.5px;width:2.6px;height:103.5px;background:#161616"></div>
<div class="r" style="left:435.7px;top:224.5px;width:2.6px;height:103.5px;background:#161616"></div>
<div class="r" style="left:707.7px;top:224.5px;width:2.6px;height:103.5px;background:#161616"></div>
<div class="r" style="left:887.1px;top:224.5px;width:2.6px;height:103.5px;background:#161616"></div>
<div class="r" style="left:1184.4px;top:224.5px;width:2.6px;height:103.5px;background:#161616"></div>
<div class="r" style="left:1418.1px;top:224.5px;width:2.6px;height:103.5px;background:#161616"></div>
<div class="r" style="left:1571.7px;top:224.5px;width:2.6px;height:103.5px;background:#161616"></div>
<div class="r" style="left:83.5px;top:224.5px;width:1490.8px;height:2.6px;background:#161616"></div>
<div class="r" style="left:83.5px;top:289.6px;width:1490.8px;height:2.6px;background:#161616"></div>
<div class="r" style="left:83.5px;top:325.5px;width:1490.8px;height:2.6px;background:#161616"></div>
<div class="r" style="left:78.2px;top:1108.7px;width:1497.0px;height:2.0px;background:#161616"></div>
<div class="r" style="left:79.4px;top:1776.6px;width:849.6px;height:2.0px;background:#161616"></div>
<div class="r" style="left:955.4px;top:1775.0px;width:619.4px;height:2.2px;background:#161616"></div>
<div class="r" style="left:77.7px;top:2174.2px;width:1497.0px;height:4.0px;background:#161616"></div>
<div class="t" style="left:77.0px;top:75.6px;font-size:34px;transform:scaleX(0.9048);color:#1c1c1c">ИНСТРУКЦИЯ ПО УСТАНОВКЕ</div>
<div class="t b h" style="left:77.0px;top:117.5px;font-size:31px;transform:scaleX(1.0991);color:#1c1c1c">ЗАЩИТА ТОПЛИВНОГО БАКА</div>
<div class="t b h" style="left:665.0px;top:104.9px;font-size:32.5px;transform:scaleX(1.1912);color:#1c1c1c">111.1947.1/333.1947.1</div>
<div class="t b h" style="left:221.0px;top:245.3px;font-size:28px;transform:scaleX(0.8913)">Марка</div>
<div class="t b h" style="left:525.0px;top:245.3px;font-size:28px;transform:scaleX(0.8607)">Модель</div>
<div class="t b h" style="left:729.0px;top:245.3px;font-size:28px;transform:scaleX(0.8909)">Поколение</div>
<div class="t b h" style="left:923.6px;top:245.3px;font-size:28px;transform:scaleX(0.8715)">Объем двигателя</div>
<div class="t b h" style="left:1224.3px;top:245.3px;font-size:28px;transform:scaleX(0.8388)">Тип привода</div>
<div class="t b h" style="left:1444.8px;top:245.3px;font-size:28px;transform:scaleX(0.8397)">Тип КПП</div>
<div class="t" style="left:236.0px;top:297.1px;font-size:23.5px;transform:scaleX(0.7949)">Geely</div>
<div class="t" style="left:539.0px;top:297.1px;font-size:23.5px;transform:scaleX(0.8615)">Cityray</div>
<div class="t" style="left:773.4px;top:297.1px;font-size:23.5px;transform:scaleX(0.8119)">2024-</div>
<div class="t" style="left:1022.8px;top:297.1px;font-size:23.5px;transform:scaleX(0.8539)">1.5</div>
<div class="t" style="left:1280.5px;top:297.1px;font-size:23.5px;transform:scaleX(0.7867)">FWD</div>
<div class="t" style="left:1471.7px;top:297.1px;font-size:23.5px;transform:scaleX(0.7743)">РКПП</div>
<div class="t" style="left:210.2px;top:464.8px;font-size:27px;transform:scaleX(1.0128)">Кронштейн 2</div>
<div class="t" style="left:143.0px;top:586.6px;font-size:27px;transform:scaleX(1.0157)">Гайка закладная</div>
<div class="t" style="left:172.6px;top:684.1px;font-size:27px;transform:scaleX(1.0134)">Болт M8x20</div>
<div class="t" style="left:193.9px;top:715.2px;font-size:27px;transform:scaleX(0.9978)">Шайба 8</div>
<div class="t" style="left:228.6px;top:782.2px;font-size:27px;transform:scaleX(1.0093)">Болт M8x16</div>
<div class="t" style="left:249.6px;top:813.7px;font-size:27px;transform:scaleX(1.0071)">Шайба 8</div>
<div class="t" style="left:243.0px;top:873.0px;font-size:27px;transform:scaleX(1.0233)">Кронштейн 3</div>
<div class="t" style="left:972.6px;top:412.6px;font-size:27px;transform:scaleX(1.0104)">Кронштейн 1</div>
<div class="t" style="left:1026.2px;top:480.3px;font-size:27px;transform:scaleX(1.0187)">Болт M8x16</div>
<div class="t" style="left:1048.4px;top:511.6px;font-size:27px;transform:scaleX(1.0127)">Шайба 8</div>
<div class="t" style="left:1245.0px;top:592.0px;font-size:27px;transform:scaleX(1.0069)">Экран</div>
<div class="t" style="left:1179.5px;top:884.8px;font-size:27px;transform:scaleX(1.0128)">Кронштейн 4</div>
<div class="t" style="left:660.3px;top:1034.2px;font-size:27px;transform:scaleX(1.0181)">Болт M8x16</div>
<div class="t" style="left:682.5px;top:1065.9px;font-size:27px;transform:scaleX(1.0099)">Шайба 8</div>
<div class="t" style="left:286.5px;top:1662.9px;font-size:27px;transform:scaleX(0.9475)">Рис .1</div>
<div class="t" style="left:1187.3px;top:1661.7px;font-size:27px;transform:scaleX(1.0023)">Рис .2</div>
<div class="t b" style="left:79.4px;top:1738.7px;font-size:27px;transform:scaleX(1.0217)">Инструкция по установке:</div>
<div class="t" style="left:79.4px;top:1781.9px;font-size:22.3px;transform:scaleX(0.8537)">1. Снять штатный пыльник.</div>
<div class="t" style="left:79.4px;top:1806.5px;font-size:22.3px;transform:scaleX(0.8583)">2. В позициях (А) ослабить штатный крепеж (Рис.1).</div>
<div class="t" style="left:79.4px;top:1831.0px;font-size:22.3px;transform:scaleX(0.8581)">3. Установить гайку закладную в позициях (Б). (Рис.1)</div>
<div class="t" style="left:79.4px;top:1855.6px;font-size:22.3px;transform:scaleX(0.8594)">4. Завести открытыми пазами кронштейны на ослабленные штатные болты. Зафиксиро-</div>
<div class="t" style="left:99.9px;top:1880.1px;font-size:22.3px;transform:scaleX(0.8538)">вать кронштейны.</div>
<div class="t" style="left:79.4px;top:1904.7px;font-size:22.3px;transform:scaleX(0.8597)">5. Зафиксировать кронштейн 3 с помощью болтов M8x20 с шайбами 8 в позициях (Б). (Рис.2).</div>
<div class="t" style="left:79.4px;top:1929.2px;font-size:22.3px;transform:scaleX(0.8593)">6. Установить защиту: закрепить защиту в позициях (В) болтами M8x16 с шайбами 8. (Рис.2).</div>
<div class="t" style="left:79.4px;top:1953.8px;font-size:22.3px;transform:scaleX(0.8582)">7. Затянуть все резьбовые соединения с необходимым усилием.</div>
<div class="t" style="left:79.4px;top:1978.3px;font-size:22.3px;transform:scaleX(0.8541)">Использование пневмоинструмента запрещено.</div>
<div class="t b" style="left:988.8px;top:1737.7px;font-size:27px;transform:scaleX(1.0176)">Состав изделия:</div>
<div class="t" style="left:1024.1px;top:1786.5px;font-size:27px;transform:scaleX(1.0162)">Наименование</div>
<div class="t" style="left:1250.9px;top:1786.5px;font-size:27px;transform:scaleX(1.0017)">Кол-во</div>
<div class="t" style="left:1360.6px;top:1786.5px;font-size:27px;transform:scaleX(1.0175)">Момент затяжки</div>
<div class="t" style="left:955.4px;top:1828.9px;font-size:20px;transform:scaleX(1.0323)">Болт M8x16</div>
<div class="t" style="left:1268.4px;top:1833.7px;font-size:20px;transform:scaleX(0.9882)">6 шт.</div>
<div class="t" style="left:955.4px;top:1852.2px;font-size:20px;transform:scaleX(1.0323)">Болт M8x20</div>
<div class="t" style="left:1268.4px;top:1857.0px;font-size:20px;transform:scaleX(0.9882)">2 шт.</div>
<div class="t" style="left:955.4px;top:1875.6px;font-size:20px;transform:scaleX(1.0285)">Шайба 8</div>
<div class="t" style="left:1268.4px;top:1880.4px;font-size:20px;transform:scaleX(0.9882)">8 шт.</div>
<div class="t" style="left:955.4px;top:1899.0px;font-size:20px;transform:scaleX(1.0212)">Кронштейн 1</div>
<div class="t" style="left:1268.4px;top:1903.8px;font-size:20px;transform:scaleX(0.9882)">1 шт.</div>
<div class="t" style="left:955.4px;top:1922.3px;font-size:20px;transform:scaleX(1.0296)">Кронштейн 2</div>
<div class="t" style="left:1268.4px;top:1927.1px;font-size:20px;transform:scaleX(0.9882)">1 шт.</div>
<div class="t" style="left:955.4px;top:1945.7px;font-size:20px;transform:scaleX(1.0296)">Кронштейн 3</div>
<div class="t" style="left:1268.4px;top:1950.5px;font-size:20px;transform:scaleX(0.9882)">1 шт.</div>
<div class="t" style="left:955.4px;top:1969.1px;font-size:20px;transform:scaleX(1.0296)">Кронштейн 4</div>
<div class="t" style="left:1268.4px;top:1973.9px;font-size:20px;transform:scaleX(0.9882)">1 шт.</div>
<div class="t" style="left:955.4px;top:1992.5px;font-size:20px;transform:scaleX(1.0381)">Гайка закладная</div>
<div class="t" style="left:1268.4px;top:1997.3px;font-size:20px;transform:scaleX(0.9882)">2 шт.</div>
<div class="t" style="left:955.4px;top:2015.8px;font-size:20px;transform:scaleX(1.0227)">Экран</div>
<div class="t" style="left:1268.4px;top:2020.6px;font-size:20px;transform:scaleX(0.9882)">1 шт.</div>
<div class="t" style="left:1425.6px;top:1831.7px;font-size:20px;transform:scaleX(1.0161)">24 Нм</div>
<div class="t" style="left:1425.6px;top:1855.0px;font-size:20px;transform:scaleX(1.0161)">24 Нм</div>
<div class="t" style="left:80.0px;top:2198.8px;font-size:25.3px;transform:scaleX(1.0945)">Производитель вправе вносить изменения в конструкцию защиты.</div>
<div class="t" style="left:80.0px;top:2232.8px;font-size:25.3px;transform:scaleX(1.1079)">Техническая поддержка:  e-mail:</div>
<div class="t b h" style="left:510.0px;top:2232.8px;font-size:25.3px;transform:scaleX(1.1457);color:#0000a0"><u>supp@rivalauto.com<span style="font-weight:normal">;</span></u></div>
<div class="t" style="left:815.0px;top:2232.8px;font-size:25.3px;transform:scaleX(1.0386)">Телефон</div>
<div class="t b h" style="left:926.5px;top:2232.8px;font-size:25.3px;transform:scaleX(1.2716)">: 8-800-555-60-43</div>
</body></html>
